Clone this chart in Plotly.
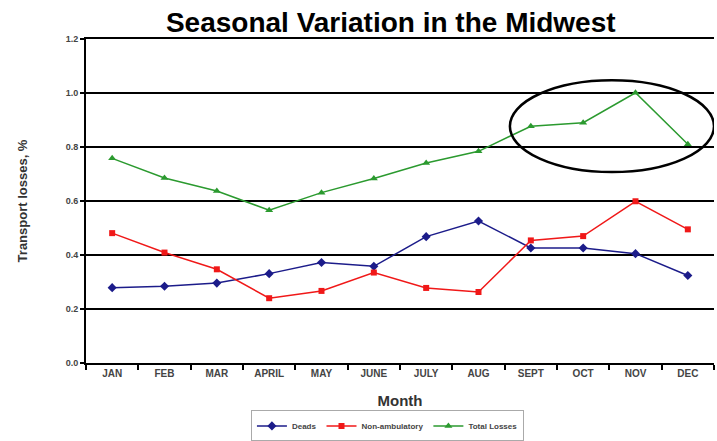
import plotly.graph_objects as go

months = ["JAN", "FEB", "MAR", "APRIL", "MAY", "JUNE", "JULY", "AUG", "SEPT", "OCT", "NOV", "DEC"]
deads = [0.279, 0.284, 0.296, 0.331, 0.372, 0.358, 0.468, 0.526, 0.426, 0.426, 0.405, 0.324]
non_ambulatory = [0.481, 0.409, 0.347, 0.240, 0.267, 0.335, 0.278, 0.263, 0.454, 0.470, 0.599, 0.495]
total_losses = [0.758, 0.685, 0.637, 0.566, 0.631, 0.683, 0.741, 0.784, 0.877, 0.890, 1.001, 0.810]
y_ticks = [0.0, 0.2, 0.4, 0.6, 0.8, 1.0, 1.2]
y_tick_labels = ["0.0", "0.2", "0.4", "0.6", "0.8", "1.0", "1.2"]

FONT = "Liberation Sans, Arial, sans-serif"

fig = go.Figure()
fig.add_trace(go.Scatter(x=months, y=deads, name="<b>Deads</b>", mode="lines+markers",
                         line=dict(color="#1c1c8a", width=1.5),
                         marker=dict(symbol="diamond", size=7, color="#1c1c8a")))
fig.add_trace(go.Scatter(x=months, y=non_ambulatory, name="<b>Non-ambulatory</b>", mode="lines+markers",
                         line=dict(color="#f01818", width=1.5),
                         marker=dict(symbol="square", size=6, color="#f01818")))
fig.add_trace(go.Scatter(x=months, y=total_losses, name="<b>Total Losses</b>", mode="lines+markers",
                         line=dict(color="#2b9a2f", width=1.5),
                         marker=dict(symbol="triangle-up", size=7, color="#2b9a2f")))

# highlight ellipse around SEPT–DEC total losses
fig.add_shape(type="circle", xref="x", yref="y", x0=7.6, x1=11.5, y0=0.707, y1=1.047,
              line=dict(color="black", width=2.5), layer="above")

fig.update_layout(
    width=717, height=441,
    margin=dict(l=86, r=3, t=39, b=78, autoexpand=False),
    paper_bgcolor="white", plot_bgcolor="white",
    font=dict(family=FONT, color="#333333"),
    title=dict(text="<b>Seasonal Variation in the Midwest</b>", x=0.545, xanchor="center",
               y=0.972, yanchor="top", font=dict(size=28, color="black", family=FONT)),
    showlegend=True,
    legend=dict(orientation="h", x=0.48, xanchor="center", y=-0.242, yanchor="bottom",
                font=dict(size=8, color="#444444", family=FONT),
                bordercolor="#aaaaaa", borderwidth=1, itemwidth=30,
                tracegroupgap=0),
)
fig.update_xaxes(type="category", range=[-0.5, 11.5], showgrid=False,
                 showline=True, linecolor="black", linewidth=2, mirror=True,
                 ticks="outside", tickson="boundaries", ticklen=5, tickcolor="black", tickwidth=2,
                 tickfont=dict(size=10, color="#444444", family=FONT),
                 tickprefix="<b>", ticksuffix="</b>",
                 title=dict(text="<b>Month</b>", font=dict(size=15, color="#333333", family=FONT), standoff=17))
fig.update_yaxes(range=[0, 1.2], tickvals=y_ticks, ticktext=["<b>%s</b>" % t for t in y_tick_labels],
                 showgrid=True, gridcolor="black", gridwidth=1.5,
                 showline=True, linecolor="black", linewidth=2, zeroline=False,
                 ticks="outside", ticklen=4, tickcolor="black", tickwidth=2,
                 tickfont=dict(size=9, color="#444444", family=FONT),
                 title=dict(text="<b>Transport losses, %</b>", font=dict(size=13, color="#333333", family=FONT), standoff=35))

fig.write_html("out.html")
